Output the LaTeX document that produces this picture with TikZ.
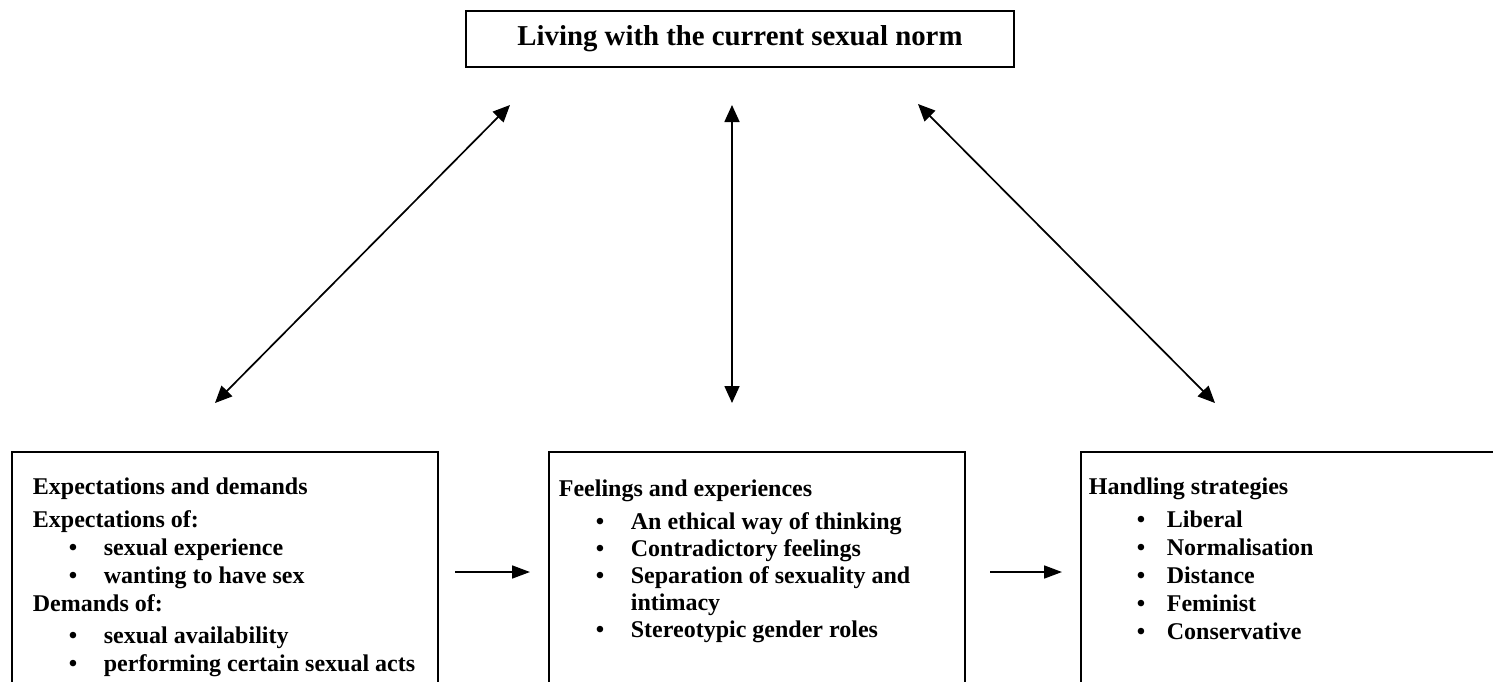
\documentclass[tikz,border=0pt]{standalone}
\usepackage{fontspec}
\setmainfont{Liberation Serif}
\usetikzlibrary{arrows.meta}

\newlength\bulin
\newlength\bulgap
\newcommand\bitem[1]{\hspace*{\bulin}\makebox[\bulgap][l]{\textbullet}#1}
\newcommand\bcont[1]{\hspace*{\bulin}\hspace*{\bulgap}#1}

\tikzset{
	box/.style={draw, line width=0.9pt, inner ysep=0pt, anchor=north west, font=\bfseries\fontsize{12}{14}\selectfont},
	link/.style={line width=0.85pt, {Triangle[length=8.5pt,width=7.5pt]}-{Triangle[length=8.5pt,width=7.5pt]}},
	flow/.style={line width=0.85pt, -{Triangle[length=9pt,width=6.5pt]}},
}

\begin{document}
\begin{tikzpicture}[x=0.5pt, y=-0.5pt]
			\useasboundingbox (0,0) rectangle (1493,681);
			\clip (0,0) rectangle (1493,681);

			% Top
			\node[draw, line width=0.9pt, minimum width=274pt, minimum height=28pt, font=\bfseries\fontsize{14.4}{16}\selectfont] (norm) at (740,39) {\raisebox{-1pt}{Living with the current sexual norm}};

			% Expectations
			\node[box, inner xsep=10.5pt] (expect) at (11,451) {\setlength\bulin{18pt}\setlength\bulgap{17.5pt}%
				\begin{minipage}[t][125pt][t]{192pt}
					\rule{0pt}{21.5pt}Expectations and demands\\[2.5pt]
					Expectations of:\\
					\bitem{sexual experience}\\
					\bitem{wanting to have sex}\\
					Demands of:\\[2pt]
					\bitem{sexual availability}\\
					\bitem{performing certain sexual acts}
				\end{minipage}};

			% Feelings
			\node[box, inner xsep=5pt] (feel) at (548,451) {\setlength\bulin{18.5pt}\setlength\bulgap{17.5pt}%
				\fontsize{12}{13.6}\selectfont
				\begin{minipage}[t][125pt][t]{198pt}
					\rule{0pt}{22.5pt}Feelings and experiences\\[2.5pt]
					\bitem{An ethical way of thinking}\\
					\bitem{Contradictory feelings}\\
					\bitem{Separation of sexuality and}\\
					\bcont{intimacy}\\
					\bitem{Stereotypic gender roles}
				\end{minipage}};

			% Strategies
			\node[box, inner xsep=4pt] (handle) at (1080,451) {\setlength\bulin{24pt}\setlength\bulgap{15pt}%
				\begin{minipage}[t][125pt][t]{207pt}
					\rule{0pt}{21.5pt}Handling strategies\\[2.5pt]
					\bitem{Liberal}\\
					\bitem{Normalisation}\\
					\bitem{Distance}\\
					\bitem{Feminist}\\
					\bitem{Conservative}
				\end{minipage}};

			% Arrow ends
			\coordinate (normL) at (510,105);
			\coordinate (normM) at (732,105);
			\coordinate (normR) at (918,104);
			\coordinate (expectT) at (215,403);
			\coordinate (feelT) at (732,403);
			\coordinate (handleT) at (1215,403);
			\coordinate (expectR) at (455,572);
			\coordinate (feelL) at (530,572);
			\coordinate (feelR) at (990,572);
			\coordinate (handleL) at (1062,572);

			\draw[link] (normL) -- (expectT);
			\draw[link] (normM) -- (feelT);
			\draw[link] (normR) -- (handleT);
			\draw[flow] (expectR) -- (feelL);
			\draw[flow] (feelR) -- (handleL);
\end{tikzpicture}
\end{document}
